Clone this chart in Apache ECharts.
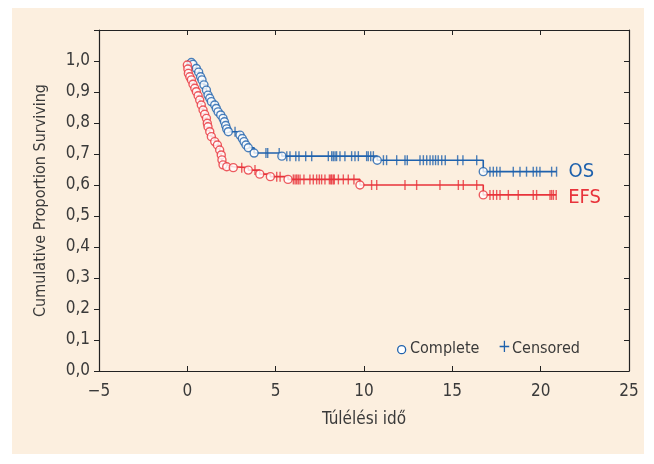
<!DOCTYPE html>
<html>
<head>
<meta charset="utf-8">
<script src="https://cdn.jsdelivr.net/npm/echarts@6/dist/echarts.min.js"></script>
<style>
    body { margin: 0; background: #ffffff; }
    .panel { position: absolute; left: 12px; top: 8px; width: 632px; height: 446px; background: #fcefdf; }
    #chart { position: absolute; left: 0; top: 0; width: 654px; height: 464px; }
</style>
</head>
<body>
<div class="panel"></div>
<div id="chart"></div>
<script>
// tick labels
const xTicks = [-5, 0, 5, 10, 15, 20, 25]
const yTicks = [0, 0.1, 0.2, 0.3, 0.4, 0.5, 0.6, 0.7, 0.8, 0.9, 1.0]

// OS: event times (circles) and survival after each event
const osEventT = [0.23, 0.32, 0.51, 0.64, 0.75, 0.83, 0.94, 1.08, 1.17, 1.27, 1.36, 1.55, 1.64, 1.74, 1.89, 2.02, 2.1, 2.17, 2.23, 2.32, 2.98, 3.11, 3.21, 3.32, 3.45, 3.78, 5.35, 10.75, 16.75]
const osEventS = [0.995, 0.989, 0.976, 0.964, 0.949, 0.939, 0.923, 0.906, 0.890, 0.880, 0.869, 0.858, 0.847, 0.836, 0.826, 0.815, 0.804, 0.792, 0.781, 0.772, 0.761, 0.750, 0.740, 0.729, 0.720, 0.703, 0.693, 0.680, 0.643]
// OS: censored times
const osCensorT = [2.7, 4.45, 4.55, 5.2, 5.63, 5.81, 6.14, 6.32, 6.7, 7.04, 7.98, 8.17, 8.26, 8.36, 8.45, 8.64, 8.92, 9.3, 9.49, 9.68, 10.15, 10.24, 10.38, 10.53, 11.1, 11.28, 11.85, 12.32, 12.45, 13.17, 13.36, 13.55, 13.74, 13.9, 14.05, 14.2, 14.4, 14.6, 15.3, 15.6, 16.38, 17.13, 17.32, 17.51, 17.7, 18.45, 18.83, 19.2, 19.58, 19.77, 19.96, 20.62, 20.9]

// EFS: event times (circles) and survival after each event
const efsEventT = [0.0, 0.03, 0.06, 0.14, 0.23, 0.32, 0.42, 0.51, 0.61, 0.7, 0.79, 0.89, 0.98, 1.08, 1.13, 1.17, 1.27, 1.36, 1.55, 1.7, 1.83, 1.92, 1.96, 2.02, 2.23, 2.6, 3.45, 4.1, 4.7, 5.7, 9.77, 16.75]
const efsEventS = [0.987, 0.974, 0.960, 0.949, 0.939, 0.925, 0.912, 0.901, 0.888, 0.874, 0.858, 0.842, 0.828, 0.815, 0.799, 0.788, 0.772, 0.756, 0.740, 0.729, 0.713, 0.697, 0.681, 0.665, 0.659, 0.656, 0.648, 0.635, 0.627, 0.618, 0.600, 0.568]
// EFS: censored times
const efsCensorT = [3.08, 3.83, 5.06, 5.25, 6.0, 6.1, 6.19, 6.28, 6.38, 6.6, 6.94, 7.13, 7.32, 7.47, 7.6, 7.79, 8.04, 8.12, 8.17, 8.26, 8.32, 8.55, 8.83, 9.11, 9.43, 10.43, 10.72, 12.32, 12.98, 14.3, 15.34, 15.62, 16.38, 17.13, 17.32, 17.51, 17.7, 18.17, 18.73, 19.58, 19.77, 20.53, 20.62, 20.72, 20.88]

const blue = '#1f62ad'
const red = '#e8333b'
const textColor = '#3a3a3a'
const font = '"Liberation Sans Narrow", "DejaVu Sans Condensed", sans-serif'

// survival value at time t (step function)
function survAt(eventT, eventS, t) {
    let s = 1
    for (let i = 0; i < eventT.length; i++) {
        if (eventT[i] <= t) s = eventS[i]
    }
    return s
}

function stepLine(eventT, eventS, censorT) {
    const pts = [[0, 1]]
    eventT.forEach((t, i) => pts.push([t, eventS[i]]))
    const end = Math.max(...censorT)
    pts.push([end, survAt(eventT, eventS, end)])
    return pts
}

function makeSeries(name, color, eventT, eventS, censorT, labelOffset) {
    return [
        {
            type: 'line',
            step: 'end',
            data: stepLine(eventT, eventS, censorT),
            showSymbol: false,
            lineStyle: { color: color, width: 1.6 },
            endLabel: {
                show: true,
                formatter: name,
                color: color,
                fontFamily: font,
                fontSize: 20,
                distance: 12,
                offset: labelOffset
            },
            animation: false,
            z: 2
        },
        {
            type: 'scatter',
            data: censorT.map(t => [t, survAt(eventT, eventS, t)]),
            symbol: 'rect',
            symbolSize: [1.4, 10],
            itemStyle: { color: color },
            animation: false,
            z: 3
        },
        {
            type: 'scatter',
            data: eventT.map((t, i) => [t, eventS[i]]),
            symbol: 'circle',
            symbolSize: 8,
            itemStyle: { color: '#ffffff', borderColor: color, borderWidth: 1.4 },
            animation: false,
            z: 4
        }
    ]
}

const mycharts = echarts.init(document.getElementById('chart'))
mycharts.setOption({
    backgroundColor: 'transparent',
    textStyle: { fontFamily: font },
    grid: { left: 99, right: 25, top: 30, bottom: 93 },
    xAxis: [
        {
            type: 'value',
            min: xTicks[0],
            max: xTicks[xTicks.length - 1],
            interval: 5,
            position: 'bottom',
            name: 'Túlélési idő',
            nameLocation: 'middle',
            nameGap: 40,
            nameTextStyle: { color: textColor, fontSize: 17, fontFamily: font },
            axisLine: { onZero: false, lineStyle: { color: '#222', width: 1.2 } },
            axisTick: { inside: true, length: 5, lineStyle: { color: '#222' } },
            axisLabel: {
                color: textColor,
                fontSize: 17,
                fontFamily: font,
                margin: 12,
                formatter: v => String(v).replace('-', '\u2212')
            },
            splitLine: { show: false }
        },
        {
            type: 'value',
            min: xTicks[0],
            max: xTicks[xTicks.length - 1],
            interval: 5,
            position: 'top',
            axisLine: { onZero: false, lineStyle: { color: '#222', width: 1.2 } },
            axisTick: { inside: true, length: 5, lineStyle: { color: '#222' } },
            axisLabel: { show: false },
            splitLine: { show: false }
        }
    ],
    yAxis: [
        {
            type: 'value',
            min: 0,
            max: 1.1,
            interval: 0.1,
            position: 'left',
            name: 'Cumulative Proportion Surviving',
            nameLocation: 'middle',
            nameGap: 50,
            nameTextStyle: { color: textColor, fontSize: 16, fontFamily: font },
            axisLine: { show: true, onZero: false, lineStyle: { color: '#222', width: 1.2 } },
            axisTick: { show: true, length: 5, lineStyle: { color: '#222' } },
            axisLabel: {
                color: textColor,
                fontSize: 17,
                fontFamily: font,
                margin: 9,
                formatter: v => {
                    const hit = yTicks.find(t => Math.abs(t - v) < 1e-6)
                    return hit === undefined ? '' : hit.toFixed(1).replace('.', ',')
                }
            },
            splitLine: { show: false }
        },
        {
            type: 'value',
            min: 0,
            max: 1.1,
            interval: 0.1,
            position: 'right',
            axisLine: { show: true, onZero: false, lineStyle: { color: '#222', width: 1.2 } },
            axisTick: { show: true, inside: true, length: 5, lineStyle: { color: '#222' } },
            axisLabel: { show: false },
            splitLine: { show: false }
        }
    ],
    graphic: [
        {
            type: 'circle',
            left: 397, top: 345,
            shape: { r: 4 },
            style: { fill: '#ffffff', stroke: blue, lineWidth: 1.3 }
        },
        {
            type: 'text',
            left: 410, top: 341,
            style: { text: 'Complete', fill: textColor, font: '16px ' + font }
        },
        {
            type: 'text',
            left: 498, top: 339,
            style: { text: '+', fill: blue, font: '17px ' + font }
        },
        {
            type: 'text',
            left: 512, top: 341,
            style: { text: 'Censored', fill: textColor, font: '16px ' + font }
        }
    ],
    series: [
        ...makeSeries('OS', blue, osEventT, osEventS, osCensorT, [0, 0]),
        ...makeSeries('EFS', red, efsEventT, efsEventS, efsCensorT, [0, 3])
    ]
})
</script>
</body>
</html>
